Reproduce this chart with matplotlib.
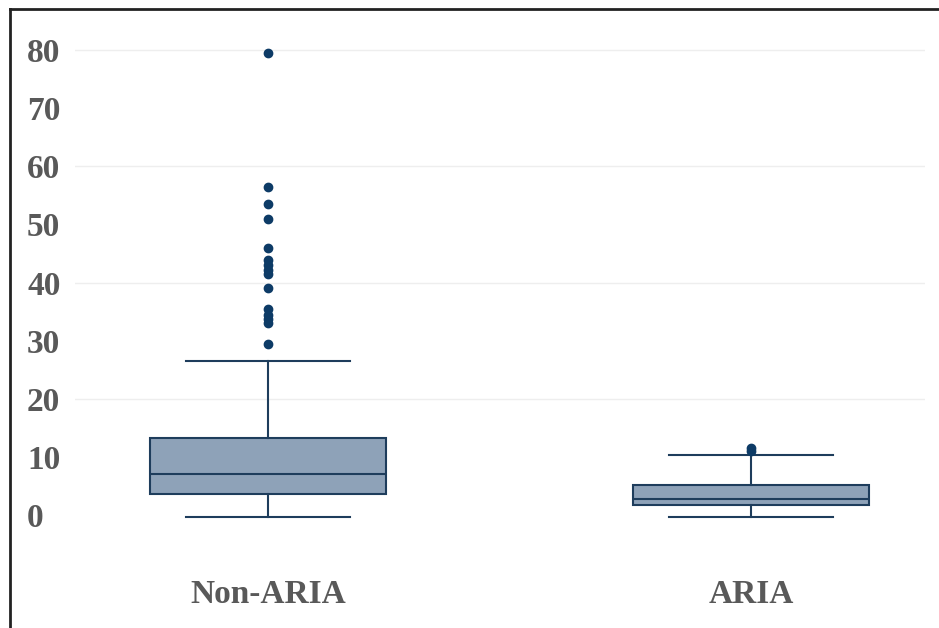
import matplotlib
matplotlib.use("Agg")
from matplotlib import pyplot as plt
from matplotlib.lines import Line2D

groups = ['Non-ARIA', 'ARIA']
q1 = [3.7, 1.8]
median = [7.1, 2.7]
q3 = [13.3, 5.2]
whisker_low = [-0.3, -0.3]
whisker_high = [26.5, 10.3]
outliers = [
    [79.5, 56.5, 53.5, 51.0, 46.0, 43.8, 43.0, 42.2, 41.5, 39.0,
     35.5, 34.5, 33.8, 33.0, 29.5],
    [11.0, 11.5],
]
yticks = [0, 10, 20, 30, 40, 50, 60, 70, 80]

plt.rcParams['font.family'] = ['Liberation Serif', 'DejaVu Serif']

fig = plt.figure(figsize=(9.39, 6.28), dpi=100)
ax = fig.add_axes([0.0799, 0.0874, 0.905, 0.879])

stats = []
for i, g in enumerate(groups):
    stats.append(dict(label=g, q1=q1[i], med=median[i], q3=q3[i],
                      whislo=whisker_low[i], whishi=whisker_high[i],
                      fliers=outliers[i]))

navy = '#1e3d5c'
for y in [20, 40, 60, 80]:
    ax.axhline(y, color='#eeeeee', lw=1, zorder=0)

ax.bxp(stats, positions=[0, 1], widths=0.49, patch_artist=True,
       boxprops=dict(facecolor='#8ea2b8', edgecolor=navy, linewidth=1.5),
       medianprops=dict(color=navy, linewidth=1.5),
       whiskerprops=dict(color=navy, linewidth=1.5),
       capprops=dict(color=navy, linewidth=1.5),
       capwidths=0.34,
       flierprops=dict(marker='o', markersize=6, markerfacecolor='#0d3b66',
                       markeredgecolor='#0d3b66'))

ax.set_xlim(-0.4, 1.36)
ax.set_ylim(-10, 85)
ax.set_yticks(yticks)
for s in ax.spines.values():
    s.set_visible(False)
ax.tick_params(length=0)
ax.tick_params(axis='y', pad=34.5, labelsize=24, labelcolor='#595959')
ax.tick_params(axis='x', pad=4, labelsize=24, labelcolor='#595959')
for lbl in ax.get_yticklabels():
    lbl.set_horizontalalignment('left')
    lbl.set_fontweight('bold')
for lbl in ax.get_xticklabels():
    lbl.set_fontweight('bold')

# frame on top and left, as in the source image
fig.add_artist(Line2D([9.5 / 939, 9.5 / 939], [0, 1 - 8.5 / 628],
                      color='#222222', lw=2))
fig.add_artist(Line2D([9.5 / 939, 1], [1 - 8.5 / 628, 1 - 8.5 / 628],
                      color='#222222', lw=2))

fig.savefig('out.png', dpi=100)
